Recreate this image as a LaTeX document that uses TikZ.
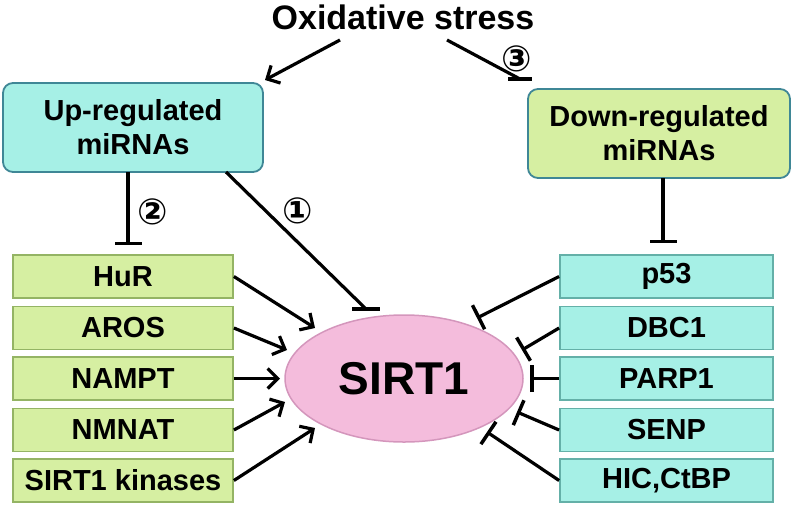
\documentclass[tikz,border=0pt]{standalone}
\usepackage{fontspec}
\setmainfont{Liberation Sans}
\newfontfamily\symfont{DejaVu Sans}
\usetikzlibrary{arrows.meta,shapes.geometric}
\definecolor{cyanfill}{HTML}{A6F0E6}
\definecolor{greenfill}{HTML}{D6EFA2}
\definecolor{cyanedge}{HTML}{3F8796}
\definecolor{greenedge}{HTML}{94B464}
\definecolor{cyanedgeL}{HTML}{64B0A8}
\definecolor{pinkfill}{HTML}{F4BCDC}
\definecolor{pinkedge}{HTML}{D496BC}
\begin{document}
\begin{tikzpicture}[x=1pt,y=-1pt,
  title/.style={font=\bfseries\fontsize{34}{36}\selectfont, inner sep=0pt},
  topbox/.style={draw=cyanedge, line width=1.8pt, rounded corners=10pt,
    minimum height=89pt, align=center, inner sep=0pt,
    font=\bfseries\fontsize{29}{34}\selectfont},
  upbox/.style={topbox, fill=cyanfill, minimum width=260pt},
  downbox/.style={topbox, fill=greenfill, minimum width=262pt},
  leftbox/.style={draw=greenedge, fill=greenfill, line width=1.8pt,
    minimum width=220pt, minimum height=43pt, inner sep=0pt,
    font=\bfseries\fontsize{29}{31}\selectfont},
  rightbox/.style={draw=cyanedgeL, fill=cyanfill, line width=1.8pt,
    minimum width=213pt, minimum height=43pt, inner sep=0pt,
    font=\bfseries\fontsize{29}{31}\selectfont},
  sirt/.style={ellipse, draw=pinkedge, fill=pinkfill, line width=1.5pt,
    minimum width=238pt, minimum height=127pt, inner sep=0pt,
    font=\bfseries\fontsize{46}{48}\selectfont},
  num/.style={font=\symfont\bfseries\fontsize{36}{36}\selectfont, inner sep=0pt},
  conn/.style={line width=3.2pt},
  act/.style={conn, -{Straight Barb[length=10pt,width=20pt,line width=3.2pt]}},
  inh/.style={conn, -{Bar[width=27pt,line width=3.5pt]}}
]
\useasboundingbox (0,0) rectangle (792,504);

% nodes
\node[title] (ox) at (403,17) {Oxidative stress};
\node[upbox] (up) at (133,127.5) {Up-regulated\\miRNAs};
\node[downbox] (down) at (659,133.5) {Down-regulated\\miRNAs};

\node[leftbox] (hur) at (123,276.5) {HuR};
\node[leftbox] (aros) at (123,328) {AROS};
\node[leftbox] (nampt) at (123,378.5) {NAMPT};
\node[leftbox] (nmnat) at (123,430) {NMNAT};
\node[leftbox] (kin) at (123,480.5) {SIRT1 kinases};

\node[rightbox] (p53) at (666.5,276.5) {p53};
\node[rightbox] (dbc) at (666.5,328) {DBC1};
\node[rightbox] (parp) at (666.5,378.5) {PARP1};
\node[rightbox] (senp) at (666.5,430) {SENP};
\node[rightbox] (hic) at (666.5,480.5) {HIC,CtBP};

\node[sirt] (s) at (404,378.5) {SIRT1};

\node[num] (n1) at (298,211) {①};
\node[num] (n2) at (153,212) {②};
\node[num] (n3) at (517,59) {③};

% coordinates
\coordinate (o1) at (340,40);
\coordinate (o2) at (447,40);
\coordinate (e1) at (265,80);
\coordinate (e3) at (520,79);
\coordinate (u1) at (226,172);
\coordinate (t1) at (366,309);
\coordinate (u2) at (128,172);
\coordinate (t2) at (128,245);
\coordinate (d2) at (663,178);
\coordinate (t3) at (663,243);

\coordinate (ah) at (315,328);
\coordinate (aa) at (287,350);
\coordinate (an) at (280,378.5);
\coordinate (am) at (285,402);
\coordinate (ak) at (315,428);

\coordinate (ip) at (477,318);
\coordinate (id) at (522,350);
\coordinate (ipa) at (530,378.5);
\coordinate (is) at (517,412);
\coordinate (ih) at (487,432);

% connectors
\draw[act] (o1) -- (e1);
\draw[conn] (o2) -- (e3);
\draw[line width=3.5pt] (e3) ++(-12,0) -- ++(24,0);
\draw[conn] (u1) -- (t1);
\draw[line width=3.5pt] (t1) ++(-14,0) -- ++(28,0);
\draw[inh] (u2) -- (t2);
\draw[inh] (d2) -- (t3);

\draw[act] (hur.east) -- (ah);
\draw[act] (aros.east) -- (aa);
\draw[act] (nampt.east) -- (an);
\draw[act] (nmnat.east) -- (am);
\draw[act] (kin.east) -- (ak);

\draw[inh] (p53.west) -- (ip);
\draw[inh] (dbc.west) -- (id);
\draw[inh] (parp.west) -- (ipa);
\draw[inh] (senp.west) -- (is);
\draw[inh] (hic.west) -- (ih);
\end{tikzpicture}
\end{document}
